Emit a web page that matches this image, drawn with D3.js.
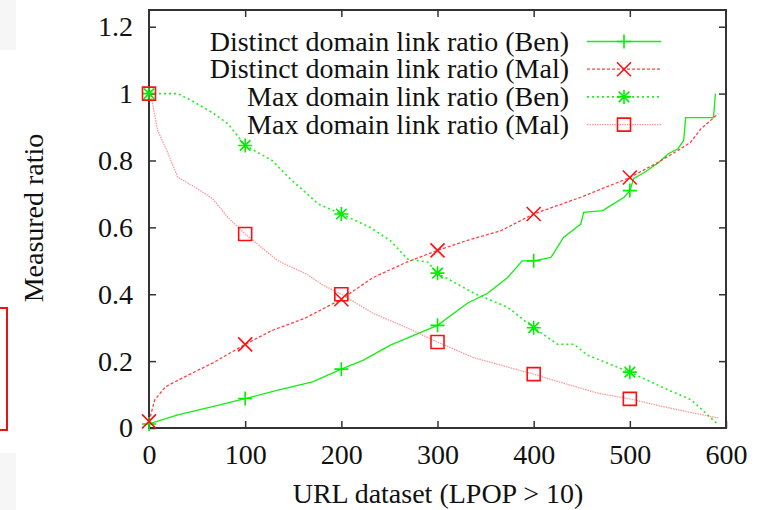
<!DOCTYPE html>
<html>
<head>
<meta charset="utf-8">
<script src="https://cdn.jsdelivr.net/npm/d3@7"></script>
<style>
  body { margin: 0; background: #fff; }
  svg text { font-family: "Liberation Serif", "Times New Roman", serif; fill: #111; }
</style>
</head>
<body>
<div id="chart"></div>
<script>
// values
var xTicks = [0, 100, 200, 300, 400, 500, 600];
var yTicks = [0, 0.2, 0.4, 0.6, 0.8, 1, 1.2];
var yTickLabels = ["0", "0.2", "0.4", "0.6", "0.8", "1", "1.2"];

var distinctBenX = [0, 30, 66, 100, 134, 170, 200, 223, 251, 300, 331, 352, 373, 388, 400, 418, 431, 449, 452, 472, 480, 494, 500, 504, 515, 530, 540, 550, 556, 558, 587, 589];
var distinctBenY = [0.012, 0.039, 0.064, 0.088, 0.113, 0.138, 0.176, 0.203, 0.248, 0.307, 0.373, 0.403, 0.45, 0.50, 0.50, 0.51, 0.57, 0.61, 0.645, 0.65, 0.665, 0.69, 0.71, 0.746, 0.764, 0.794, 0.82, 0.835, 0.86, 0.928, 0.928, 1.0];

var distinctMalX = [0, 6, 17, 37, 66, 100, 128, 162, 200, 233, 268, 300, 331, 366, 400, 449, 500, 529, 550, 563, 574, 592];
var distinctMalY = [0.02, 0.084, 0.123, 0.153, 0.194, 0.25, 0.292, 0.328, 0.385, 0.45, 0.496, 0.531, 0.561, 0.59, 0.64, 0.69, 0.749, 0.794, 0.83, 0.854, 0.895, 0.94];

var maxBenX = [0, 30, 48, 66, 82, 100, 128, 145, 176, 200, 230, 251, 269, 290, 300, 338, 373, 394, 400, 425, 442, 456, 500, 536, 564, 590];
var maxBenY = [1.0, 1.0, 0.973, 0.943, 0.91, 0.845, 0.80, 0.75, 0.67, 0.64, 0.60, 0.56, 0.505, 0.496, 0.463, 0.403, 0.361, 0.313, 0.30, 0.25, 0.25, 0.218, 0.167, 0.119, 0.084, 0.015];

var maxMalX = [0, 3, 9, 20, 30, 48, 66, 82, 100, 134, 164, 181, 200, 233, 268, 300, 338, 400, 431, 467, 500, 536, 571, 592];
var maxMalY = [1.0, 0.98, 0.89, 0.82, 0.75, 0.72, 0.686, 0.63, 0.58, 0.50, 0.46, 0.427, 0.40, 0.343, 0.30, 0.257, 0.21, 0.161, 0.134, 0.104, 0.087, 0.063, 0.042, 0.03];

var seriesNames = ["Distinct domain link ratio (Ben)", "Distinct domain link ratio (Mal)", "Max domain link ratio (Ben)", "Max domain link ratio (Mal)"];

var svgWidth = 765, svgHeight = 510;
var margin = { top: 10, right: 39, bottom: 82, left: 149 };
var width = svgWidth - margin.left - margin.right;
var height = svgHeight - margin.top - margin.bottom;
var fontSize = "28px";

var svg = d3.select("#chart").append("svg")
  .attr("width", svgWidth)
  .attr("height", svgHeight);

// bits of the screenshot at the left edge
svg.append("rect").attr("x", 0).attr("y", 0).attr("width", 16).attr("height", 50).attr("fill", "#f6f6f6");
svg.append("rect").attr("x", 0).attr("y", 453).attr("width", 16).attr("height", 57).attr("fill", "#f6f6f6");
svg.append("path").attr("d", "M0,308H7V430H0").attr("fill", "none").attr("stroke", "#ee1111").attr("stroke-width", 2);

var chart = svg.append("g").attr("transform", "translate(" + margin.left + "," + margin.top + ")");

var x = d3.scaleLinear().domain([0, 600]).range([0, width]);
var y = d3.scaleLinear().domain([0, 1.25]).range([height, 0]);

function styleAxis(g) {
  g.select(".domain").remove();
  g.selectAll(".tick line").attr("stroke", "#333").attr("stroke-width", 1.5);
  g.selectAll(".tick text").style("font-size", fontSize).attr("fill", "#111");
}

chart.append("g")
  .attr("transform", "translate(0," + height + ")")
  .call(d3.axisBottom(x).tickValues(xTicks).tickSizeInner(-7).tickPadding(16).tickFormat(d3.format("d")))
  .call(styleAxis);
chart.append("g")
  .call(d3.axisTop(x).tickValues(xTicks.slice(1, 6)).tickSizeInner(-7).tickFormat(""))
  .call(styleAxis);
chart.append("g")
  .call(d3.axisLeft(y).tickValues(yTicks).tickSizeInner(-7).tickPadding(16).tickFormat(function(d, i) { return yTickLabels[i]; }))
  .call(styleAxis);
chart.append("g")
  .attr("transform", "translate(" + width + ",0)")
  .call(d3.axisRight(y).tickValues(yTicks.slice(1)).tickSizeInner(-7).tickFormat(""))
  .call(styleAxis);

chart.append("rect")
  .attr("width", width).attr("height", height)
  .attr("fill", "none").attr("stroke", "#333").attr("stroke-width", 2);

var series = [
  { xs: distinctBenX, ys: distinctBenY, color: "#11ee11", dash: null, width: 1.3, opacity: 1, marker: "plus" },
  { xs: distinctMalX, ys: distinctMalY, color: "#ff2020", dash: "3,2", width: 1.3, opacity: 0.85, marker: "cross" },
  { xs: maxBenX, ys: maxBenY, color: "#22ee22", dash: "2,3", width: 1.6, opacity: 1, marker: "star" },
  { xs: maxMalX, ys: maxMalY, color: "#ff5555", dash: "1.5,1", width: 1.3, opacity: 0.6, marker: "square" }
];

var line = d3.line().x(function(d) { return x(d[0]); }).y(function(d) { return y(d[1]); });

function markerPath(type, s) {
  var p = d3.path();
  if (type === "plus" || type === "star") {
    p.moveTo(-s, 0); p.lineTo(s, 0); p.moveTo(0, -s); p.lineTo(0, s);
  }
  if (type === "cross" || type === "star") {
    var k = type === "star" ? s * 0.75 : s;
    p.moveTo(-k, -k); p.lineTo(k, k); p.moveTo(-k, k); p.lineTo(k, -k);
  }
  if (type === "square") {
    p.rect(-s, -s, 2 * s, 2 * s);
  }
  return p.toString();
}

function markerColor(sr) {
  return sr.marker === "square" || sr.marker === "cross" ? "#ff1010" : "#00ee00";
}

series.forEach(function(sr) {
  var pts = sr.xs.map(function(v, i) { return [v, sr.ys[i]]; });
  chart.append("path")
    .datum(pts)
    .attr("d", line)
    .attr("fill", "none")
    .attr("stroke", sr.color)
    .attr("stroke-width", sr.width)
    .attr("stroke-opacity", sr.opacity)
    .attr("stroke-dasharray", sr.dash);

  var marks = pts.filter(function(d) { return d[0] % 100 === 0 && d[0] <= 500; });
  chart.selectAll(null)
    .data(marks)
    .enter().append("path")
    .attr("transform", function(d) { return "translate(" + x(d[0]) + "," + y(d[1]) + ")"; })
    .attr("d", markerPath(sr.marker, sr.marker === "square" ? 6.5 : 7))
    .attr("fill", "none")
    .attr("stroke", markerColor(sr))
    .attr("stroke-width", 1.6);
});

// legend
var legend = svg.append("g");
series.forEach(function(sr, i) {
  var cy = 41.5 + i * 27.7;
  legend.append("text")
    .attr("x", 569).attr("y", cy + 9)
    .attr("text-anchor", "end")
    .style("font-size", fontSize)
    .text(seriesNames[i]);
  legend.append("line")
    .attr("x1", 587).attr("x2", 661).attr("y1", cy).attr("y2", cy)
    .attr("stroke", sr.color)
    .attr("stroke-width", sr.width)
    .attr("stroke-opacity", sr.opacity)
    .attr("stroke-dasharray", sr.dash);
  legend.append("path")
    .attr("transform", "translate(624," + cy + ")")
    .attr("d", markerPath(sr.marker, sr.marker === "square" ? 6.5 : 7))
    .attr("fill", "none")
    .attr("stroke", markerColor(sr))
    .attr("stroke-width", 1.6);
});

// axis titles
svg.append("text")
  .attr("transform", "translate(43,218) rotate(-90)")
  .attr("text-anchor", "middle")
  .style("font-size", fontSize)
  .text("Measured ratio");

svg.append("text")
  .attr("x", 438).attr("y", 503)
  .attr("text-anchor", "middle")
  .style("font-size", fontSize)
  .text("URL dataset (LPOP > 10)");
</script>
</body>
</html>
